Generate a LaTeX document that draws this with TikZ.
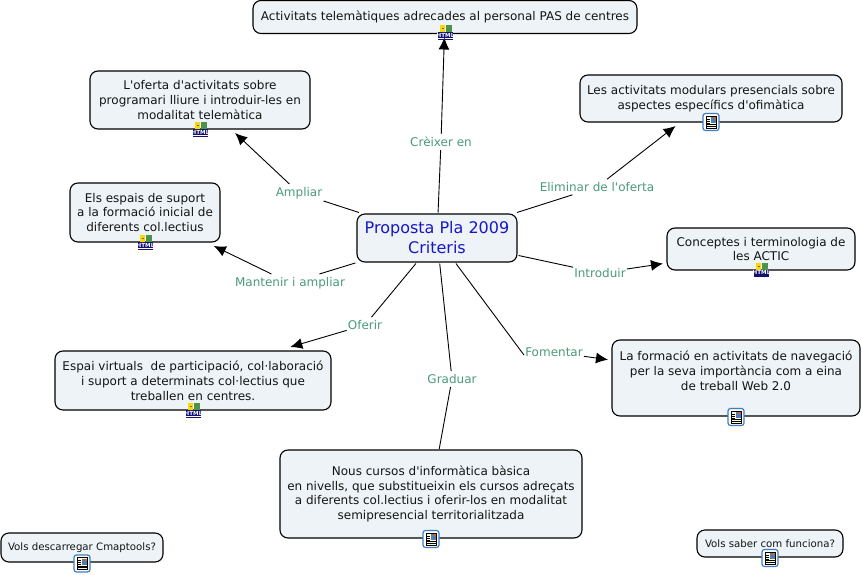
\documentclass[tikz,border=0pt]{standalone}
\usepackage{fontspec}
\setmainfont{DejaVu Sans}
\usetikzlibrary{arrows.meta}
\definecolor{boxfill}{HTML}{EDF3F6}
\definecolor{linkgreen}{HTML}{4A9A78}
\definecolor{mainblue}{HTML}{1717C8}
\definecolor{icnavy}{HTML}{12126E}
\definecolor{icblue}{HTML}{3F7CC4}
\tikzset{
    concept/.style={draw=black,line width=1.1pt,fill=boxfill,rounded corners=8pt,align=center,
        inner sep=0pt,outer sep=4pt,text=black!92,font=\fontsize{12}{14.8}\selectfont},
    linklabel/.style={text=linkgreen,inner xsep=1pt,inner ysep=3pt,font=\fontsize{12}{14}\selectfont},
    link/.style={line width=0.9pt,black},
    linkarrow/.style={link,-{Latex[length=12pt,width=11pt]}},
    htmlicon/.pic={
        \fill[yellow!75!orange] (-5,-7) rectangle (0,0);
        \fill[black!60] (-3.5,-4) rectangle (-1,-3);
        \fill[black!30!green!40!gray] (1,-7) rectangle (7,0);
        \fill[icnavy] (-7,0) rectangle (8,6);
        \node[text=white,inner sep=0pt,font=\fontsize{5.6}{6}\selectfont\bfseries] (htmltext) at (0.5,3) {HTML};
        \draw[icnavy,line width=0.8pt] (-7,7.3) -- (8,7.3);
    },
    docicon/.pic={
        \draw[icblue,fill=white,line width=1.2pt,rounded corners=2.5pt] (-8,-8.5) rectangle (8,8.5);
        \draw[black,fill=yellow!15,line width=0.9pt] (-5,-6) rectangle (5.5,6);
        \foreach \yy in {-3,-1,1} {\draw[black,line width=0.7pt] (-4,\yy) -- (-1,\yy);}
        \foreach \yy in {2.5,4} {\draw[black,line width=0.7pt] (-4,\yy) -- (4.5,\yy);}
        \fill[icblue!70!gray] (0,-5) rectangle (4.5,1);
        \fill[orange!70!red] (2.5,-5) rectangle (4.5,-3);
    }
}
\begin{document}
\begin{tikzpicture}[x=1pt,y=-1pt]
    \useasboundingbox (0,0) rectangle (862,575);

    % concepts
    \node[concept,outer sep=1.5pt,minimum width=160pt,minimum height=48pt,text=mainblue,
        font=\fontsize{16}{20}\selectfont] (main) at (437,238) {Proposta Pla 2009\\Criteris};
    \node[concept,minimum width=384pt,minimum height=33pt] (telematiques) at (445,17)
        {Activitats telemàtiques adrecades al personal PAS de centres};
    \node[concept,minimum width=220pt,minimum height=58pt] (oferta) at (200,100)
        {L\textquotesingle oferta d\textquotesingle activitats sobre\\programari lliure i introduir-les en\\modalitat telemàtica};
    \node[concept,minimum width=150pt,minimum height=59pt] (espais) at (145,212.5)
        {Els espais de suport\\a la formació inicial de\\diferents col.lectius};
    \node[concept,minimum width=276pt,minimum height=59pt] (virtuals) at (193,380.5)
        {Espai virtuals\ \ de participació, col·laboració\\i suport a determinats col·lectius que\\treballen en centres.};
    \node[concept,minimum width=302pt,minimum height=88pt] (cursos) at (431,494)
        {Nous cursos d\textquotesingle informàtica bàsica\\en nivells, que substitueixin els cursos adreçats\\a diferents col.lectius i oferir-los en modalitat\\semipresencial territorialitzada};
    \node[concept,minimum width=248pt,minimum height=76pt] (navegacio) at (736,378)
        {La formació en activitats de navegació\\per la seva importància com a eina\\de treball Web 2.0\\~};
    \node[concept,minimum width=188pt,minimum height=42pt] (actic) at (761,249)
        {Conceptes i terminologia de\\les ACTIC};
    \node[concept,minimum width=262pt,minimum height=47pt] (ofimatica) at (711,98.5)
        {Les activitats modulars presencials sobre\\aspectes específics d\textquotesingle ofimàtica};
    \node[concept,font=\fontsize{10.2}{12}\selectfont,minimum width=162pt,minimum height=29pt] (cmaptools) at (82,547.5)
        {Vols descarregar Cmaptools?};
    \node[concept,font=\fontsize{10.2}{12}\selectfont,minimum width=146pt,minimum height=27pt] (funciona) at (770,543.5)
        {Vols saber com funciona?};

    % linking phrases
    \node[linklabel] (creixer) at (441,142) {Crèixer en};
    \node[linklabel] (ampliar) at (299,193) {Ampliar};
    \node[linklabel] (mantenir) at (290,283) {Mantenir i ampliar};
    \node[linklabel] (oferir) at (365,325) {Oferir};
    \node[linklabel] (graduar) at (452,379) {Graduar};
    \node[linklabel] (fomentar) at (554,352) {Fomentar};
    \node[linklabel] (introduir) at (600,273) {Introduir};
    \node[linklabel] (eliminar) at (597,187) {Eliminar de l\textquotesingle oferta};

    \draw[link] (main) -- (creixer);
    \draw[link] (main) -- (ampliar);
    \draw[link] (main) -- (mantenir);
    \draw[link] (main) -- (oferir);
    \draw[link] (main) -- (graduar);
    \draw[link] (main) -- (fomentar.186);
    \draw[link] (main) -- (introduir);
    \draw[link] (main) -- (eliminar);

    \draw[linkarrow] (creixer) -- (telematiques);
    \draw[linkarrow] (ampliar) -- (oferta);
    \draw[linkarrow] (mantenir) -- (espais);
    \draw[linkarrow] (oferir) -- (virtuals.19);
    \draw[link,shorten >=-3pt] (graduar) -- (cursos);
    \draw[linkarrow] (fomentar) -- (navegacio);
    \draw[linkarrow] (introduir) -- (actic);
    \draw[linkarrow] (eliminar) -- (ofimatica);

    % icons
    \pic at (445,32) {htmlicon};
    \pic at (200,129.5) {htmlicon};
    \pic at (145,242) {htmlicon};
    \pic at (193,410) {htmlicon};
    \pic at (761,269.5) {htmlicon};
    \pic at (711,122) {docicon};
    \pic at (736,417) {docicon};
    \pic at (431,539) {docicon};
    \pic at (82,563.5) {docicon};
    \pic at (770,558) {docicon};
\end{tikzpicture}
\end{document}
